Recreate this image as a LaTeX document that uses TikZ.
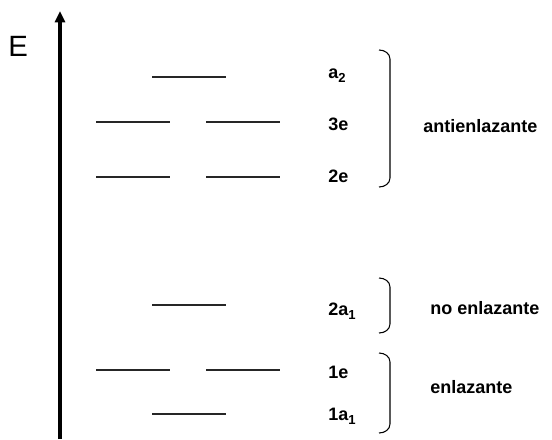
\documentclass[tikz,border=0pt]{standalone}
\usepackage{fontspec}
\setmainfont{Liberation Sans}
\usetikzlibrary{arrows.meta}
\newcommand\lowidx[1]{\raisebox{-0.45ex}{\fontsize{9.8}{10}\selectfont #1}}
\tikzset{
  level/.style={line width=1.1pt, black!85},
  lbl/.style={anchor=base west, inner sep=0pt, font=\fontsize{13.5}{15}\selectfont\bfseries},
  grp/.style={anchor=base west, inner sep=0pt, font=\fontsize{13.5}{15}\selectfont\bfseries},
  brk/.style={line width=0.8pt},
}
\begin{document}
\begin{tikzpicture}[x=0.75pt, y=-0.75pt]
\useasboundingbox (0,0) rectangle (552,439);
% energy axis
\coordinate (ax0) at (60,439);
\coordinate (ax1) at (60,11);
\draw[line width=2.6pt, -{Triangle[length=8.5pt,width=7.5pt]}] (ax0) -- (ax1);
\node[anchor=base west, inner sep=0pt, font=\fontsize{22}{24}\selectfont] (E) at (8,56) {E};

% orbital levels
\draw[level] (152,77) -- (226,77);
\draw[level] (96,122) -- (170,122);
\draw[level] (206,122) -- (280,122);
\draw[level] (96,177) -- (170,177);
\draw[level] (206,177) -- (280,177);
\draw[level] (152,305) -- (226,305);
\draw[level] (96,370) -- (170,370);
\draw[level] (206,370) -- (280,370);
\draw[level] (152,414) -- (226,414);

% symmetry labels
\node[lbl] (la2) at (328,78) {a\lowidx{2}};
\node[lbl] (l3e) at (328,130) {3e};
\node[lbl] (l2e) at (328,182) {2e};
\node[lbl] (l2a1) at (328,315) {2a\lowidx{1}};
\node[lbl] (l1e) at (328,378) {1e};
\node[lbl] (l1a1) at (328,420) {1a\lowidx{1}};

% group brackets
\draw[brk] (379,50) to[out=0,in=90] (390,59) -- (390,178) to[out=-90,in=0] (379,187);
\draw[brk] (379,278) to[out=0,in=90] (390,287) -- (390,324) to[out=-90,in=0] (379,333);
\draw[brk] (379,353) to[out=0,in=90] (390,362) -- (390,424) to[out=-90,in=0] (379,433);

\node[grp] (anti) at (423,132) {antienlazante};
\node[grp] (non) at (430,314) {no enlazante};
\node[grp] (enl) at (430,393) {enlazante};
\end{tikzpicture}
\end{document}
